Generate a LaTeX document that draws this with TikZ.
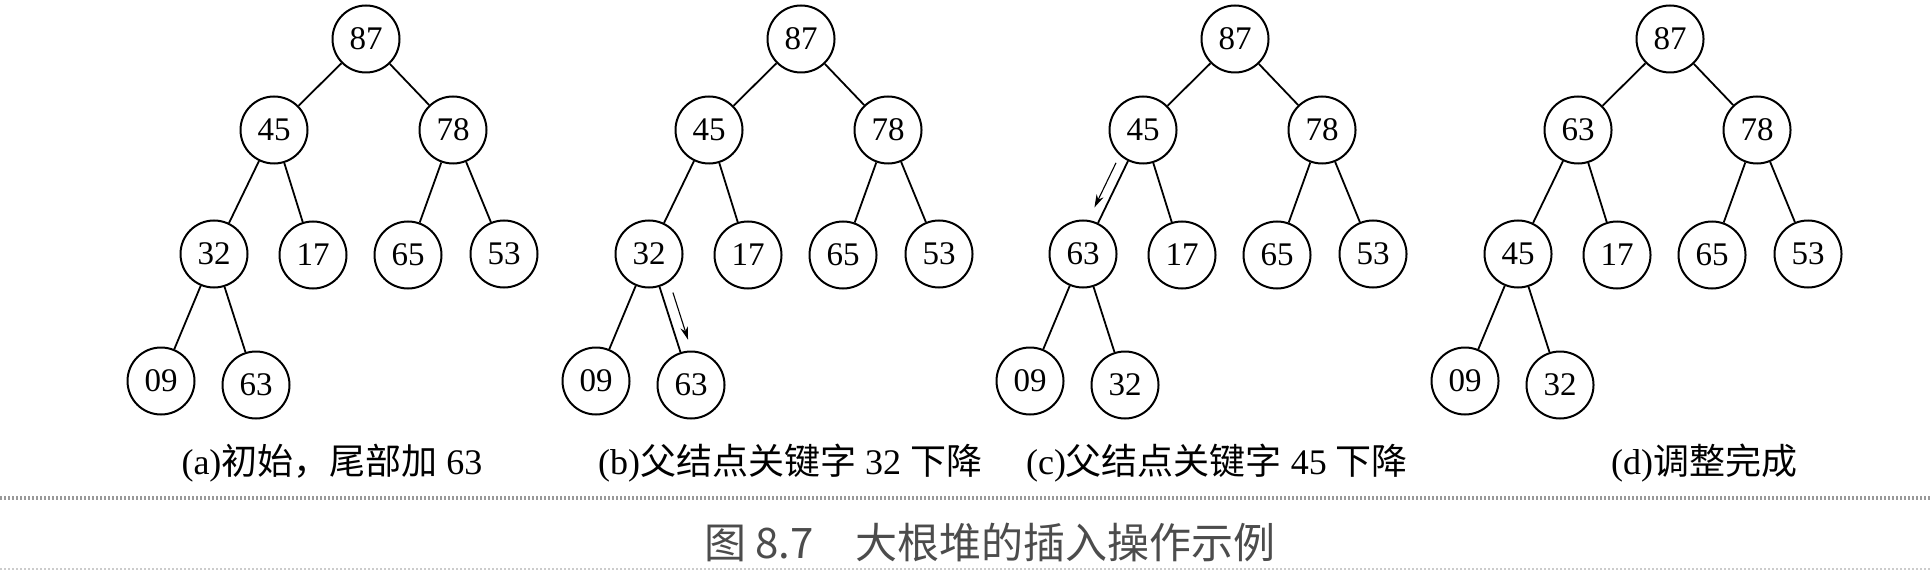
\documentclass[tikz,border=0pt]{standalone}
\usepackage{fontspec}
\setmainfont{Liberation Serif}
\newfontfamily\cjk{Noto Sans CJK SC}
\newcommand{\zh}[1]{{\cjk #1}}
\usetikzlibrary{arrows.meta,calc}

\begin{document}
\begin{tikzpicture}[x=0.5pt, y=-0.5pt,
    key/.style={circle, draw, line width=1pt, minimum size=33.5pt, inner sep=0pt,
                font=\fontsize{16.5}{16.5}\selectfont},
    edge/.style={line width=0.9pt},
    move/.style={line width=0.55pt, -{Stealth[length=6.5pt, width=3.8pt]}},
    subcap/.style={font=\fontsize{18}{18}\selectfont},
    rule/.style={black!40, line width=1.8pt, dash pattern=on 1.2pt off 0.8pt}]

  \useasboundingbox (0,0) rectangle (1930,572);

  \foreach \t/\rx/\ka/\kb/\kc/\kd/\ke/\kf/\kg/\kh/\ki in {%
    a/366/87/45/78/32/17/65/53/09/63,
    b/801/87/45/78/32/17/65/53/09/63,
    c/1235/87/45/78/63/17/65/53/09/32,
    d/1670/87/63/78/45/17/65/53/09/32}
  {
    \node[key] (\t1) at (\rx,39) {\ka};
    \node[key] (\t2) at (\rx-92,130) {\kb};
    \node[key] (\t3) at (\rx+87,130) {\kc};
    \node[key] (\t4) at (\rx-152,254) {\kd};
    \node[key] (\t5) at (\rx-53,255) {\ke};
    \node[key] (\t6) at (\rx+42,255) {\kf};
    \node[key] (\t7) at (\rx+138,254) {\kg};
    \node[key] (\t8) at (\rx-205,381) {\kh};
    \node[key] (\t9) at (\rx-110,385) {\ki};
    \foreach \p/\c in {1/2,1/3,2/4,2/5,3/6,3/7,4/8,4/9}
      \draw[edge] (\t\p) -- (\t\c);
  }

  \coordinate (b-from) at ($(b4)!0.32!(b9)!5.5pt!90:(b9)$);
  \coordinate (b-to)   at ($(b4)!0.68!(b9)!5.5pt!90:(b9)$);
  \coordinate (c-from) at ($(c2)!0.30!(c4)!5pt!-90:(c4)$);
  \coordinate (c-to)   at ($(c2)!0.66!(c4)!5pt!-90:(c4)$);
  \draw[move] (b-from) -- (b-to);
  \draw[move] (c-from) -- (c-to);

  \foreach \t/\x/\txt in {%
    a/332/{(a)\zh{初始，尾部加} 63},
    b/790/{(b)\zh{父结点关键字} 32 \zh{下降}},
    c/1217/{(c)\zh{父结点关键字} 45 \zh{下降}},
    d/1704/{(d)\zh{调整完成}}}
  {
    \node[subcap] (cap-\t) at (\x,463) {\txt};
  }

  \draw[rule] (0,498) -- (1930,498);
  \node[font=\fontsize{21}{21}\selectfont, text=black!70] (title) at (990,542)
    {\zh{图 8.7\quad 大根堆的插入操作示例}};
  \draw[rule, black!20, line width=1pt] (0,569) -- (1930,569);
\end{tikzpicture}
\end{document}
